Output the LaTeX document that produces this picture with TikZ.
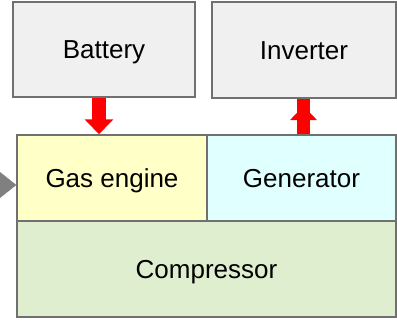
\documentclass[tikz,border=0pt]{standalone}
\usepackage{fontspec}
\setmainfont{Liberation Sans}
\usetikzlibrary{arrows.meta}
\definecolor{boxgray}{HTML}{F0F0F0}
\definecolor{edgegray}{HTML}{707070}
\definecolor{engyellow}{HTML}{FFFFC8}
\definecolor{gencyan}{HTML}{E0FFFF}
\definecolor{compgreen}{HTML}{DFEECE}
\definecolor{arrowgray}{HTML}{808080}
\tikzset{
  blk/.style={draw=edgegray, line width=1.5pt, inner sep=0pt, font=\fontsize{26}{30}\selectfont, text=black, text height=18.7pt, text depth=0pt},
  powerline/.style={draw=red, line width=#1},
}
\begin{document}
\begin{tikzpicture}[x=1pt,y=-1pt]
\useasboundingbox (0,0) rectangle (397,324);
\fill[white] (0,0) rectangle (397,324);
% boxes
\node[blk, fill=boxgray, minimum width=182pt, minimum height=95pt] (bat) at (104,49.5) {Battery};
\node[blk, fill=boxgray, minimum width=184pt, minimum height=96pt] (inv) at (304,50) {Inverter};
\node[blk, fill=engyellow, minimum width=190pt, minimum height=86pt] (gas) at (112,178) {Gas engine};
\node[blk, fill=gencyan, minimum width=189pt, minimum height=86pt] (gen) at (301.5,178) {Generator};
\node[blk, fill=compgreen, minimum width=379pt, minimum height=96pt] (comp) at (206.5,269) {Compressor};
% guide columns for the vertical arrows
\coordinate (bx) at (99,0);
\coordinate (gx) at (303.5,0);
% battery -> gas engine
\draw[powerline=14pt, -{Triangle[length=15pt,width=28pt]}] (bat.south -| bx) -- (gas.north -| bx);
% generator -> inverter
\coordinate (invtip) at (303.5,106);
\draw[powerline=13pt] (gen.north -| gx) -- (inv.south -| gx);
\draw[powerline=13pt, -{Triangle[length=14pt,width=26pt]}] (gen.north -| gx) -- (invtip);
% inverter -> out (cut off)
\draw[powerline=13pt] ([yshift=-13.5pt,xshift=0.75pt]inv.east) -- ++(6,0);
% gas input (gray arrow head)
\coordinate (gin) at (0,185);
\draw[draw=arrowgray, line width=0.1pt, -{Triangle[length=17pt,width=27pt]}] (gin) -- ([yshift=-7pt]gas.west);
\end{tikzpicture}
\end{document}
